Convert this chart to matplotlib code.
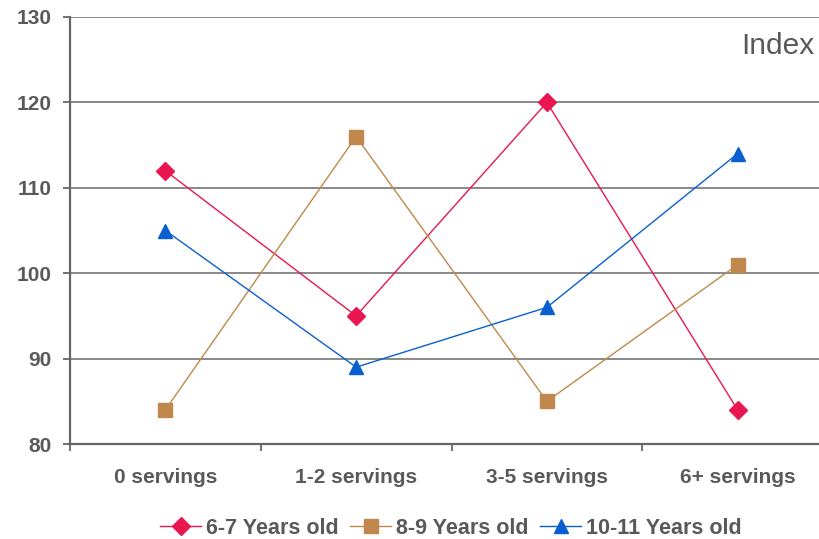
import matplotlib.pyplot as plt
from matplotlib.ticker import FixedLocator

# Index by servings, three age groups
categories = ['0 servings', '1-2 servings', '3-5 servings', '6+ servings']
age_6_7 = [112, 95, 120, 84]
age_8_9 = [84, 116, 85, 101]
age_10_11 = [105, 89, 96, 114]
series_labels = ['6-7 Years old', '8-9 Years old', '10-11 Years old']

plt.rcParams['font.family'] = ['Liberation Sans', 'DejaVu Sans']
text_grey = '#595959'

fig = plt.figure(figsize=(8.19, 5.39), dpi=100)
ax = fig.add_axes([70 / 819, 1 - 444 / 539, 763 / 819, 427 / 539])

x = range(len(categories))
ax.plot(x, age_6_7, color='#E8174F', lw=1.0, marker='D', markersize=9.5,
        label=series_labels[0], zorder=3)
ax.plot(x, age_8_9, color='#C0884C', lw=1.0, marker='s', markersize=10,
        label=series_labels[1], zorder=3)
ax.plot(x, age_10_11, color='#0A5FD0', lw=1.0, marker='^', markersize=9.5,
        label=series_labels[2], zorder=3)

ax.set_xlim(-0.5, 3.5)
ax.set_ylim(80, 130)
ax.set_yticks(range(80, 131, 10))
ax.set_xticks(list(x))
ax.set_xticklabels(categories)
ax.xaxis.set_minor_locator(FixedLocator([-0.5, 0.5, 1.5, 2.5, 3.5]))

ax.grid(axis='y', color='#808080', lw=1.3)
ax.set_axisbelow(True)
for side in ['top', 'right']:
    ax.spines[side].set_visible(False)
for side in ['left', 'bottom']:
    ax.spines[side].set_color('#666666')
    ax.spines[side].set_linewidth(1.6)

ax.tick_params(axis='y', length=5, width=1.3, color='#666666', pad=8,
               labelsize=15, labelcolor=text_grey)
ax.tick_params(axis='x', which='major', length=0, pad=17,
               labelsize=15, labelcolor=text_grey)
ax.tick_params(axis='x', which='minor', length=5, width=1.3, color='#666666')
for lbl in ax.get_xticklabels() + ax.get_yticklabels():
    lbl.set_fontweight('bold')

fig.text(815 / 819, 1 - 46 / 539, 'Index', ha='right', va='center',
         fontsize=21.5, color=text_grey)

fig.legend(loc='center', bbox_to_anchor=(451 / 819, 1 - 528 / 539), ncol=3,
           frameon=False, handlelength=1.9, handletextpad=0.23, columnspacing=0.53,
           prop={'size': 15.5, 'weight': 'bold'}, labelcolor=text_grey)

fig.savefig('out.png', dpi=100)
